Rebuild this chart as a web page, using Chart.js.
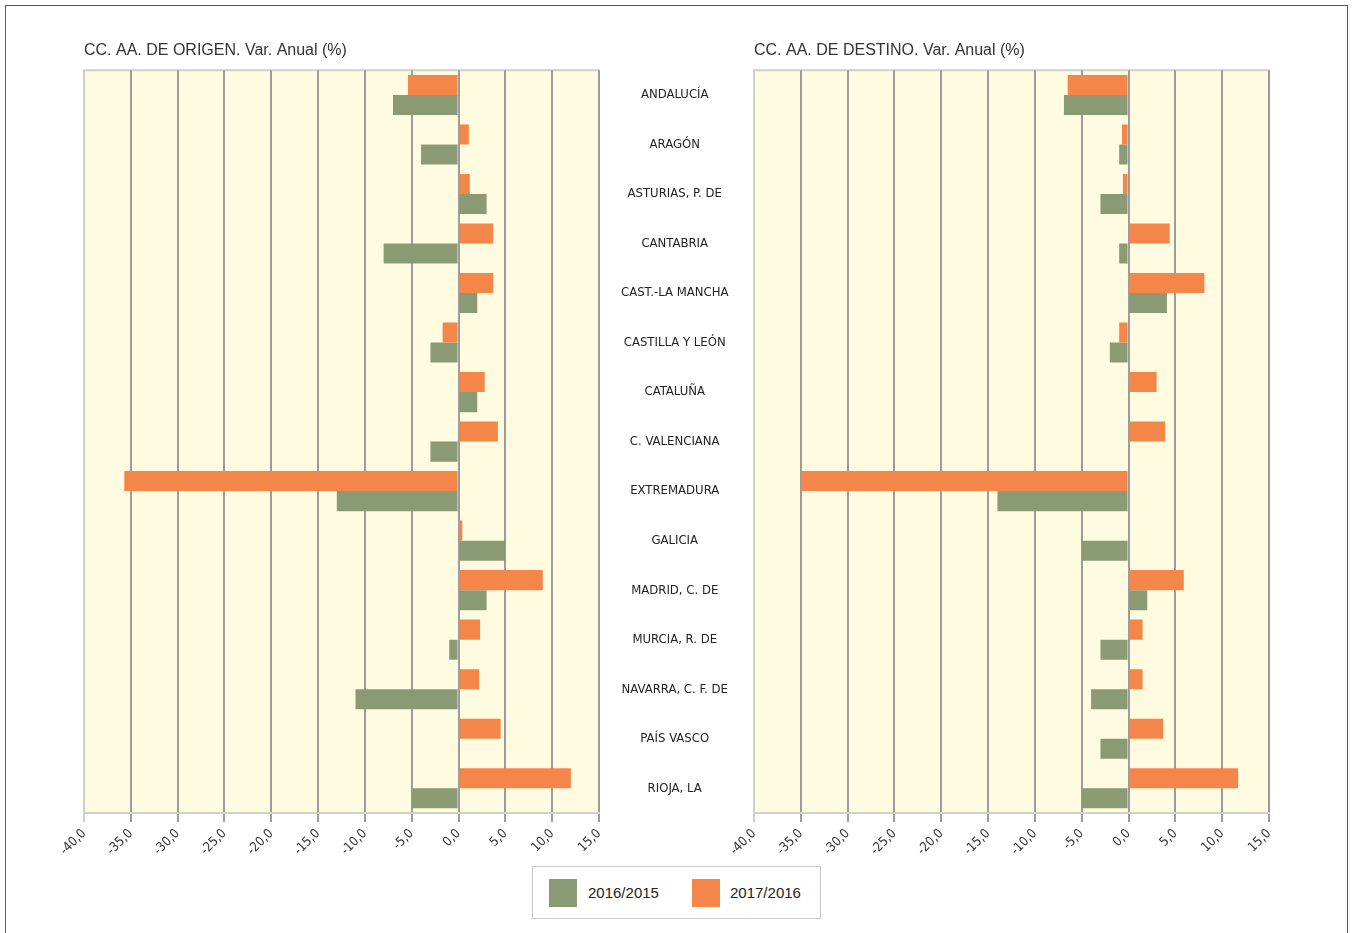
<!DOCTYPE html>
<html>
<head>
<meta charset="utf-8">
<title>CC. AA. Var. Anual</title>
<script src="https://cdn.jsdelivr.net/npm/chart.js@4"></script>
<style>
  body { margin: 0; background: #fff; width: 1353px; height: 933px; position: relative; overflow: hidden; font-family: "Liberation Sans", Arial, sans-serif; }
  #frame { position: absolute; left: 5px; top: 5px; width: 1341px; height: 960px; border: 1px solid #555; }
  .chart-box { position: absolute; top: 0; height: 870px; }
  #origenBox { left: 0; width: 760px; }
  #destinoBox { left: 670px; width: 683px; }
  #legend { position: absolute; left: 532px; top: 866px; width: 287px; height: 51px; border: 1px solid #c8c8c8; background: #fff; }
  #legend .sw { position: absolute; top: 12px; width: 28px; height: 28px; }
  #legend .lbl { position: absolute; top: 17px; font-size: 15px; color: #222; line-height: 18px; }
</style>
</head>
<body>
<div id="frame"></div>
<div class="chart-box" id="origenBox"><canvas id="origenChart"></canvas></div>
<div class="chart-box" id="destinoBox"><canvas id="destinoChart"></canvas></div>
<div id="legend">
  <div class="sw" style="left:16px; background:#8A9A75"></div>
  <div class="lbl" style="left:55px">2016/2015</div>
  <div class="sw" style="left:159px; background:#F4864A"></div>
  <div class="lbl" style="left:197px">2017/2016</div>
</div>
<script>
// Regions (same order top to bottom in both panels)
const regions = ['ANDALUCÍA', 'ARAGÓN', 'ASTURIAS, P. DE', 'CANTABRIA', 'CAST.-LA MANCHA', 'CASTILLA Y LEÓN',
    'CATALUÑA', 'C. VALENCIANA', 'EXTREMADURA', 'GALICIA', 'MADRID, C. DE', 'MURCIA, R. DE',
    'NAVARRA, C. F. DE', 'PAÍS VASCO', 'RIOJA, LA'];

// Origin region, annual variation (%)
const origen2016 = [-7.0, -4.0, 3.0, -8.0, 2.0, -3.0, 2.0, -3.0, -13.0, 5.0, 3.0, -1.0, -11.0, 0, -5.0];
const origen2017 = [-5.4, 1.1, 1.2, 3.7, 3.7, -1.7, 2.8, 4.2, -35.7, 0.4, 9.0, 2.3, 2.2, 4.5, 12.0];

// Destination region, annual variation (%)
const destino2016 = [-6.9, -1.0, -3.0, -1.0, 4.1, -2.0, 0, 0, -14.0, -5.0, 2.0, -3.0, -4.0, -3.0, -5.0];
const destino2017 = [-6.5, -0.7, -0.6, 4.4, 8.1, -1.0, 3.0, 3.9, -35.0, 0, 5.9, 1.5, 1.5, 3.7, 11.7];

const xMin = -40;
const xMax = 15;
const xStep = 5;

const GREEN = '#8A9A75';
const ORANGE = '#F4864A';
const NARROW = '"Liberation Sans Narrow", "Arial Narrow", "DejaVu Sans Condensed", sans-serif';

// cream plot background + light frame
const plotBackground = {
    id: 'plotBackground',
    beforeDraw(chart) {
        const { ctx, chartArea: a } = chart;
        ctx.save();
        ctx.fillStyle = '#FEFBE0';
        ctx.fillRect(a.left, a.top, a.right - a.left, a.bottom - a.top);
        ctx.strokeStyle = '#d2d2c6';
        ctx.lineWidth = 2;
        ctx.strokeRect(a.left, a.top, a.right - a.left, a.bottom - a.top);
        ctx.restore();
    }
};

function makeChart(canvasId, title, d2016, d2017, showLabels) {
    const ctx = document.getElementById(canvasId).getContext('2d');
    return new Chart(ctx, {
        type: 'bar',
        data: {
            labels: regions,
            datasets: [
                { label: '2017/2016', data: d2017, backgroundColor: ORANGE, categoryPercentage: 0.81, barPercentage: 1.0 },
                { label: '2016/2015', data: d2016, backgroundColor: GREEN, categoryPercentage: 0.81, barPercentage: 1.0 }
            ]
        },
        options: {
            indexAxis: 'y',
            responsive: true,
            maintainAspectRatio: false,
            animation: false,
            layout: { padding: { left: 84, top: 41, bottom: 7, right: showLabels ? 6 : 84 } },
            plugins: {
                legend: { display: false },
                tooltip: { enabled: false },
                title: {
                    display: true,
                    text: title,
                    align: 'start',
                    color: '#333',
                    font: { family: '"Liberation Sans", Arial, sans-serif', size: 16, weight: 'normal' },
                    padding: { top: 0, bottom: 10 }
                }
            },
            scales: {
                x: {
                    min: xMin,
                    max: xMax,
                    afterFit: s => { s.height = 50; },
                    ticks: {
                        stepSize: xStep,
                        minRotation: 45,
                        maxRotation: 45,
                        padding: 4,
                        color: '#333',
                        font: { family: NARROW, size: 13 },
                        callback: v => v.toFixed(1).replace('.', ',')
                    },
                    grid: {
                        color: c => (c.tick && c.tick.value === xMin) ? '#cfcfc3' : '#9c9c9c',
                        lineWidth: 2,
                        tickLength: 9
                    },
                    border: { color: '#d2d2c6', width: 2 }
                },
                y: {
                    display: showLabels,
                    position: 'right',
                    afterFit: s => { if (showLabels) s.width = 155; },
                    ticks: {
                        crossAlign: 'center',
                        padding: 22,
                        color: '#222',
                        font: { family: NARROW, size: 13 }
                    },
                    grid: { display: false, drawTicks: false },
                    border: { display: false }
                }
            }
        },
        plugins: [plotBackground]
    });
}

makeChart('origenChart', 'CC. AA. DE ORIGEN. Var. Anual (%)', origen2016, origen2017, true);
makeChart('destinoChart', 'CC. AA. DE DESTINO. Var. Anual (%)', destino2016, destino2017, false);
</script>
</body>
</html>
